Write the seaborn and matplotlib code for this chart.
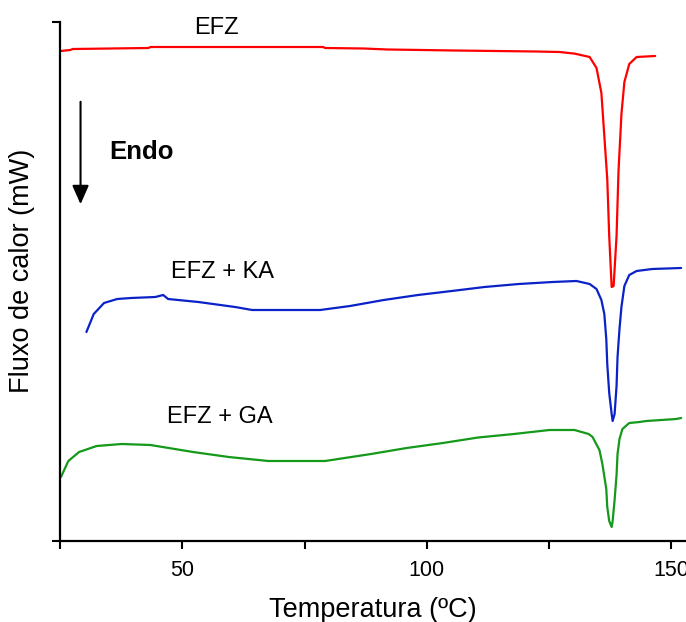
import numpy as np
import pandas as pd
import matplotlib
matplotlib.use("Agg")
import matplotlib.pyplot as plt
import seaborn as sns

# ---- data (temperature in °C, heat flow in arbitrary offset units) ----
efz_T = [25.1, 27.1, 27.6, 43.1, 43.5, 78.8, 79.2, 87.1, 92.0, 105.7, 122.4, 127.1, 130.2,
         133.3, 134.7, 135.7, 136.3, 136.9, 137.3, 137.8, 138.2, 138.8, 139.2, 139.8, 140.4,
         141.4, 142.9, 146.7]
efz_F = [49.0, 49.1, 49.2, 49.3, 49.4, 49.4, 49.3, 49.25, 49.15, 49.05, 48.95, 48.9, 48.74,
         48.4, 47.3, 44.8, 40.5, 36.2, 30.5, 25.4, 25.5, 30.5, 37.0, 42.7, 45.9,
         47.7, 48.4, 48.5]

ka_T = [30.4, 31.9, 34.0, 36.7, 39.5, 44.5, 46.1, 47.1, 53.3, 60.8, 64.3, 78.2, 84.3, 91.2,
        98.2, 105.1, 111.8, 118.8, 125.7, 130.6, 133.3, 134.7, 135.7, 136.3, 136.7, 136.9,
        137.3, 137.8, 138.0, 138.4, 138.8, 139.0, 139.4, 139.8, 140.4, 141.4, 142.9, 146.1, 152.0]
ka_F = [20.9, 22.7, 23.8, 24.2, 24.3, 24.4, 24.6, 24.2, 23.9, 23.4, 23.1, 23.1, 23.5, 24.1,
        24.6, 25.0, 25.4, 25.7, 25.9, 26.0, 25.7, 25.2, 24.1, 22.7, 20.2, 17.7,
        14.8, 12.7, 12.0, 12.7, 15.5, 18.4, 21.2, 23.4, 25.5, 26.6, 27.0, 27.2, 27.3]

ga_T = [25.2, 26.7, 28.9, 32.5, 37.6, 43.5, 52.2, 59.5, 67.6, 79.2, 88.6, 95.9, 103.3, 110.5,
        117.8, 125.1, 130.2, 133.1, 133.9, 135.3, 135.9, 136.7, 136.9, 137.3, 137.8, 138.0,
        138.4, 138.8, 139.0, 139.4, 140.0, 141.4, 143.5, 144.9, 151.0, 152.0]
ga_F = [6.4, 8.0, 8.9, 9.5, 9.7, 9.6, 8.9, 8.4, 8.0, 8.0, 8.7, 9.3, 9.8, 10.35,
        10.7, 11.1, 11.1, 10.7, 10.4, 9.1, 7.7, 5.2, 3.4, 2.0, 1.4, 2.0,
        4.1, 6.6, 8.7, 10.2, 11.2, 11.8, 11.9, 12.0, 12.2, 12.3]

series_names = ["EFZ", "EFZ + KA", "EFZ + GA"]
series_colors = ["#FF0000", "#0A22C8", "#14991A"]
x_ticks = [50, 100, 150]
x_minor = [25, 75, 125]

df = pd.concat([
    pd.DataFrame({"T": efz_T, "F": efz_F, "s": series_names[0]}),
    pd.DataFrame({"T": ka_T, "F": ka_F, "s": series_names[1]}),
    pd.DataFrame({"T": ga_T, "F": ga_F, "s": series_names[2]}),
], ignore_index=True)

sns.set_theme(style="ticks")
plt.rcParams["font.family"] = ["Liberation Sans", "DejaVu Sans"]

fig = plt.figure(figsize=(6.86, 6.22), dpi=100)
ax = fig.add_axes([60 / 686, 81 / 622, 1 - 60 / 686, (541 - 22) / 622])

sns.lineplot(data=df, x="T", y="F", hue="s", palette=dict(zip(series_names, series_colors)),
             sort=False, estimator=None, linewidth=1.6, legend=False, ax=ax)

ax.set_xlim(25, 153)
ax.set_ylim(0, 51.9)
ax.set_xticks(x_ticks)
ax.set_xticks(x_minor, minor=True)
ax.set_xticklabels([str(t) for t in x_ticks])
ax.set_yticks([0, 51.9])
ax.set_yticklabels([])
ax.tick_params(axis="both", which="both", direction="out", length=6, width=1.5, color="black")
ax.tick_params(axis="x", which="major", labelsize=15.5, pad=8, colors="black")
for s in ["left", "bottom"]:
    ax.spines[s].set_linewidth(1.6)
    ax.spines[s].set_color("black")
for s in ["top", "right"]:
    ax.spines[s].set_visible(False)

ax.set_xlabel("Temperatura (ºC)", fontsize=19.5, labelpad=11, color="black")
ax.set_ylabel("Fluxo de calor (mW)", fontsize=19.5, color="black")
ax.yaxis.set_label_coords(-25 / 626, (541 - 271) / 519)

label_pos = [(56.9, 51.3), (58.2, 26.9), (57.6, 12.4)]
for name, (tx, ty) in zip(series_names, label_pos):
    ax.text(tx, ty, name, fontsize=17, ha="center", va="center", color="black", clip_on=False)

ax.text(35.1, 38.9, "Endo", fontsize=18.5, fontweight="bold", ha="left", va="center", color="black")
ax.annotate("", xy=(29.2, 33.4), xytext=(29.2, 44.2),
            arrowprops=dict(arrowstyle="-|>,head_width=0.42,head_length=0.95", color="black", lw=1.5))

fig.savefig("out.png", dpi=100)
